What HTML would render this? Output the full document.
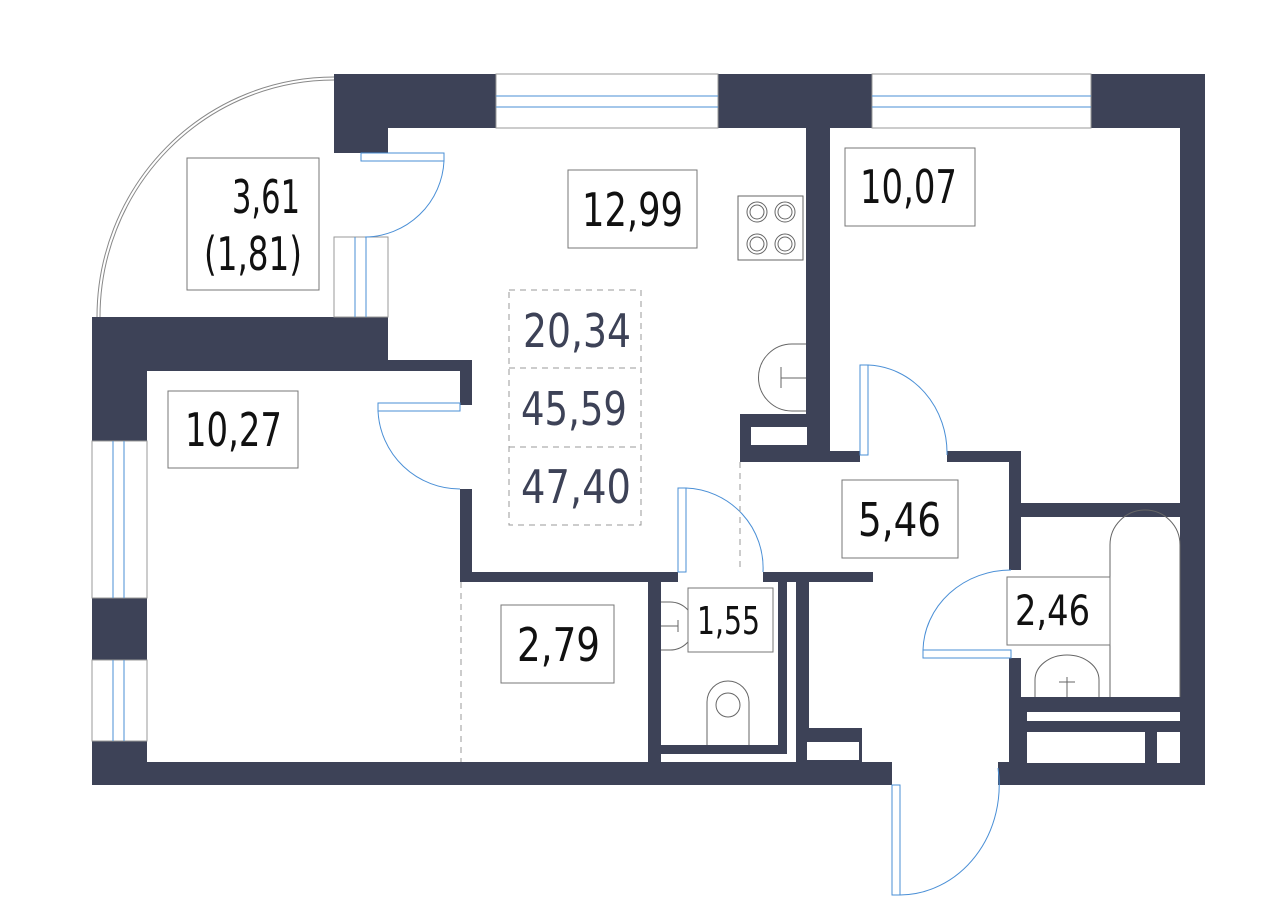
<!DOCTYPE html>
<html><head><meta charset="utf-8"><style>
html,body{margin:0;padding:0;background:#fff;}
svg{display:block}
text{font-family:"DejaVu Sans","Liberation Sans",sans-serif;}
</style></head><body>
<svg width="1280" height="915" viewBox="0 0 1280 915" xmlns="http://www.w3.org/2000/svg">
<g fill="#3d4257">
<rect x="334" y="74" width="162" height="54"/>
<rect x="334" y="74" width="54" height="79"/>
<rect x="718" y="74" width="154" height="54"/>
<rect x="1091" y="74" width="114" height="54"/>
<rect x="1180" y="74" width="25" height="711"/>
<rect x="806" y="128" width="24" height="334"/>
<rect x="740" y="414" width="67" height="41"/>
<rect x="740" y="451" width="120" height="11"/>
<rect x="947" y="451" width="73" height="11"/>
<rect x="1009" y="451" width="12" height="119"/>
<rect x="1009" y="658" width="12" height="127"/>
<rect x="1019" y="503" width="161" height="14"/>
<rect x="1019" y="697" width="161" height="88"/>
<rect x="92" y="317" width="296" height="54"/>
<rect x="388" y="360" width="84" height="11"/>
<rect x="460" y="360" width="12" height="45"/>
<rect x="92" y="317" width="55" height="124"/>
<rect x="92" y="598" width="55" height="62"/>
<rect x="92" y="741" width="55" height="44"/>
<rect x="92" y="762" width="800" height="23"/>
<rect x="998" y="762" width="207" height="23"/>
<rect x="460" y="489" width="12" height="93"/>
<rect x="460" y="572" width="218" height="10"/>
<rect x="763" y="572" width="110" height="10"/>
<rect x="648" y="572" width="13" height="213"/>
<rect x="778" y="582" width="9" height="171"/>
<rect x="796" y="582" width="13" height="150"/>
<rect x="796" y="728" width="66" height="34"/>
<rect x="656" y="745" width="131" height="9"/>
</g>
<g fill="#fff">
<rect x="751" y="427" width="56" height="18"/>
<rect x="807" y="742" width="52" height="18"/>
<rect x="661" y="754" width="135" height="8"/>
<rect x="1027" y="712" width="153" height="9"/>
<rect x="1027" y="732" width="118" height="31"/>
<rect x="1157" y="732" width="23" height="31"/>
</g>
<g fill="none" stroke="#999" stroke-width="1">
<rect x="496" y="74" width="222" height="54"/>
<rect x="872" y="74" width="219" height="54"/>
<rect x="92" y="441" width="55" height="157"/>
<rect x="92" y="660" width="55" height="81"/>
<rect x="334" y="237" width="54" height="80"/>
</g>
<g stroke="#4a8fd6" stroke-width="1" fill="none">
<line x1="496" y1="96" x2="718" y2="96"/><line x1="496" y1="107" x2="718" y2="107"/>
<line x1="872" y1="96" x2="1091" y2="96"/><line x1="872" y1="107" x2="1091" y2="107"/>
<line x1="113" y1="441" x2="113" y2="598"/><line x1="124" y1="441" x2="124" y2="598"/>
<line x1="113" y1="660" x2="113" y2="741"/><line x1="124" y1="660" x2="124" y2="741"/>
<line x1="355" y1="237" x2="355" y2="317"/><line x1="366" y1="237" x2="366" y2="317"/>
<rect x="361" y="153" width="83" height="8"/>
<path d="M444 161 A80 80 0 0 1 365 237"/>
<rect x="378" y="403" width="82" height="8"/>
<path d="M378 411 A82 82 0 0 0 460 489"/>
<rect x="678" y="488" width="8" height="84"/>
<path d="M686 488 A80 80 0 0 1 763 572"/>
<rect x="860" y="365" width="8" height="90"/>
<path d="M868 365 A82 88 0 0 1 947 455"/>
<rect x="923" y="650" width="88" height="8"/>
<path d="M923 650 A88 82 0 0 1 1011 570"/>
<rect x="892" y="785" width="8" height="110"/>
<path d="M900 895 A100 110 0 0 0 998 768"/>
</g>
<g fill="none" stroke="#888" stroke-width="1">
<path d="M97 317 A237 240 0 0 1 334 77"/>
<path d="M100 317 A234 237 0 0 1 334 80"/>
</g>
<g fill="none" stroke="#666" stroke-width="1">
<rect x="738" y="196" width="65" height="64"/>
<circle cx="757" cy="212" r="10"/><circle cx="757" cy="212" r="7"/>
<circle cx="785" cy="212" r="10"/><circle cx="785" cy="212" r="7"/>
<circle cx="757" cy="244" r="10"/><circle cx="757" cy="244" r="7"/>
<circle cx="785" cy="244" r="10"/><circle cx="785" cy="244" r="7"/>
<path d="M806 344 H792 A33 33 0 0 0 792 411 H806"/>
<line x1="781" y1="367" x2="781" y2="388"/><line x1="781" y1="378" x2="806" y2="378"/>
<path d="M661 602 H670 A24 24 0 0 1 670 650 H661"/>
<line x1="661" y1="626" x2="678" y2="626"/><line x1="678" y1="620" x2="678" y2="632"/>
<path d="M707 745 V702 A21 21 0 0 1 749 702 V745"/>
<circle cx="728" cy="705" r="12"/>
<path d="M1110 697 V545 A35 35 0 0 1 1180 545 V697"/>
<path d="M1035 697 V680 A32 25 0 0 1 1099 680 V697"/>
<line x1="1067" y1="677" x2="1067" y2="697"/><line x1="1059" y1="682" x2="1075" y2="682"/>
</g>
<g fill="none" stroke="#999" stroke-width="1" stroke-dasharray="6,5">
<rect x="509" y="290" width="132" height="235"/>
<line x1="509" y1="368" x2="641" y2="368"/>
<line x1="509" y1="447" x2="641" y2="447"/>
<line x1="461" y1="582" x2="461" y2="762"/>
<line x1="740" y1="462" x2="740" y2="572"/>
</g>
<g fill="#fff" stroke="#777" stroke-width="1">
<rect x="187" y="158" width="132" height="132"/>
<rect x="568" y="170" width="129" height="78"/>
<rect x="845" y="148" width="130" height="78"/>
<rect x="168" y="391" width="130" height="77"/>
<rect x="501" y="605" width="113" height="78"/>
<rect x="842" y="480" width="116" height="78"/>
<rect x="1007" y="577" width="103" height="68"/>
<rect x="688" y="588" width="85" height="64"/>
</g>
<g fill="#111" font-size="46" lengthAdjust="spacingAndGlyphs">
<text x="232" y="213" textLength="68" lengthAdjust="spacingAndGlyphs">3,61</text>
<text x="204" y="270" textLength="98" lengthAdjust="spacingAndGlyphs">(1,81)</text>
<text x="582" y="226" textLength="101" lengthAdjust="spacingAndGlyphs">12,99</text>
<text x="860" y="203" textLength="97" lengthAdjust="spacingAndGlyphs">10,07</text>
<text x="185" y="446" textLength="97" lengthAdjust="spacingAndGlyphs">10,27</text>
<text x="517" y="661" textLength="83" lengthAdjust="spacingAndGlyphs">2,79</text>
<text x="858" y="536" textLength="83" lengthAdjust="spacingAndGlyphs">5,46</text>
<text x="1015" y="625" font-size="42" textLength="75" lengthAdjust="spacingAndGlyphs">2,46</text>
<text x="697" y="634" font-size="38" textLength="63" lengthAdjust="spacingAndGlyphs">1,55</text>
</g>
<g fill="#3d4257" font-size="46">
<text x="523" y="347" textLength="108" lengthAdjust="spacingAndGlyphs">20,34</text>
<text x="521" y="425" textLength="106" lengthAdjust="spacingAndGlyphs">45,59</text>
<text x="521" y="503" textLength="110" lengthAdjust="spacingAndGlyphs">47,40</text>
</g>
</svg>
</body></html>
